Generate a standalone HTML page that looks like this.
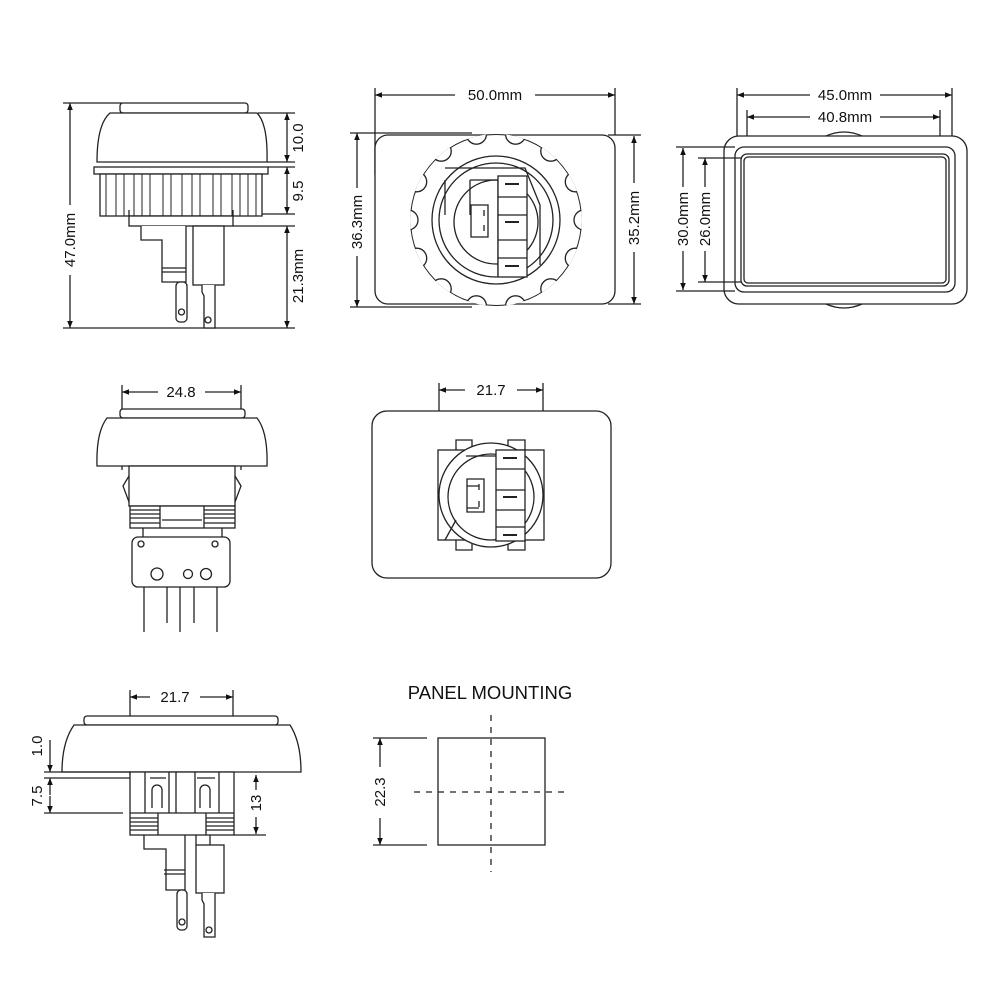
<!DOCTYPE html>
<html><head><meta charset="utf-8"><style>
html,body{margin:0;padding:0;background:#fff}
svg{display:block}
text{font-family:"Liberation Sans",Arial,sans-serif;font-size:15px;fill:#111}
</style></head><body>
<svg width="1000" height="1000" viewBox="0 0 1000 1000" xmlns="http://www.w3.org/2000/svg">
<defs>
<marker id="a" viewBox="0 0 10 10" refX="10" refY="5" markerWidth="9" markerHeight="7" orient="auto-start-reverse" markerUnits="userSpaceOnUse"><path d="M0,1 L10,5 L0,9 Z" fill="#111"/></marker>
<clipPath id="cp"><circle cx="496" cy="220" r="86"/></clipPath>
</defs>
<g fill="none" stroke="#222" stroke-width="1.3">

<!-- ===== View 1 ===== -->
<line x1="70" y1="103" x2="70" y2="205" marker-start="url(#a)"/>
<line x1="70" y1="275" x2="70" y2="328" marker-end="url(#a)"/>
<line x1="63" y1="103" x2="122" y2="103"/>
<line x1="63" y1="328" x2="295" y2="328"/>
<rect x="120" y="103" width="128" height="10" rx="3" fill="#fff"/>
<path d="M97,162 Q97,124 110,113 L257,113 Q268,124 267,162 Z" fill="#fff"/>
<rect x="94" y="167" width="174" height="7" fill="#fff"/>
<rect x="100" y="174" width="162" height="42" fill="#fff"/>
<g stroke-width="1">
<path d="M106,174V216M116,174V216M124,174V216M134,174V216M142,174V216M150,174V216M163,174V216M171,174V216M182,174V216M192,174V216M200,174V216M213,174V216M221,174V216M232,174V216M240,174V216M248,174V216M256,174V216"/>
</g>
<rect x="129" y="216" width="104" height="10" fill="#fff"/>
<path d="M129,210V216M233,210V216"/>
<path d="M141,226V240H162V282H186V226" fill="#fff"/>
<path d="M162,268H186M162,272H186"/>
<rect x="193" y="226" width="31" height="59" fill="#fff"/>
<rect x="176" y="282" width="11" height="40" rx="4" fill="#fff"/>
<circle cx="181.5" cy="312" r="3"/>
<path d="M202,285V292L204,296V328H215V285" fill="#fff"/>
<circle cx="208" cy="320" r="3"/>
<line x1="287" y1="113" x2="287" y2="162" marker-start="url(#a)" marker-end="url(#a)"/>
<line x1="287" y1="167" x2="287" y2="214" marker-start="url(#a)" marker-end="url(#a)"/>
<line x1="287" y1="226" x2="287" y2="328" marker-start="url(#a)" marker-end="url(#a)"/>
<path d="M258,113H295M267,162H295M268,167H295M262,214H295M233,226H295"/>

<!-- ===== View 2 ===== -->
<line x1="375" y1="95" x2="455" y2="95" marker-start="url(#a)"/>
<line x1="535" y1="95" x2="615" y2="95" marker-end="url(#a)"/>
<path d="M375,88V175M615,88V135"/>
<rect x="375" y="135" width="240" height="169" rx="13" fill="#fff"/>
<line x1="357" y1="133" x2="357" y2="188" marker-start="url(#a)"/>
<line x1="357" y1="256" x2="357" y2="307" marker-end="url(#a)"/>
<path d="M350,133H472M350,307H472"/>
<line x1="634" y1="136" x2="634" y2="183" marker-start="url(#a)"/>
<line x1="634" y1="252" x2="634" y2="304" marker-end="url(#a)"/>
<path d="M608,135H641M608,304H641"/>
<g clip-path="url(#cp)">
<circle cx="496" cy="220" r="86" fill="#fff" stroke-width="2"/>
<g fill="#fff">
<circle cx="584" cy="220" r="10"/><circle cx="575.3" cy="258.2" r="10"/><circle cx="550.8" cy="288.8" r="10"/><circle cx="515.6" cy="305.8" r="10"/><circle cx="476.4" cy="305.8" r="10"/><circle cx="441.2" cy="288.8" r="10"/><circle cx="416.7" cy="258.2" r="10"/><circle cx="408" cy="220" r="10"/><circle cx="416.7" cy="181.8" r="10"/><circle cx="441.2" cy="151.2" r="10"/><circle cx="476.4" cy="134.2" r="10"/><circle cx="515.6" cy="134.2" r="10"/><circle cx="550.8" cy="151.2" r="10"/><circle cx="575.3" cy="181.8" r="10"/>
</g>
</g>
<circle cx="496" cy="220" r="64" fill="#fff"/>
<circle cx="496" cy="220" r="57"/>
<path d="M445,168H525L540,205V265M445,180V215"/>
<circle cx="496" cy="222" r="42"/>
<path d="M470,180H498V276M470,180V215"/>
<path d="M471,205H488V237H471Z" fill="#fff"/>
<path d="M484,210V216M484,225V231"/>
<rect x="498" y="176" width="29" height="101" fill="#fff"/>
<path d="M498,197H527M498,215H527M498,240H527M498,258H527"/>
<path d="M505,184H519M505,222H519M505,266H519" stroke-width="2"/>

<!-- ===== View 3 ===== -->
<line x1="737" y1="95" x2="810" y2="95" marker-start="url(#a)"/>
<line x1="880" y1="95" x2="952" y2="95" marker-end="url(#a)"/>
<line x1="747" y1="117" x2="810" y2="117" marker-start="url(#a)"/>
<line x1="880" y1="117" x2="940" y2="117" marker-end="url(#a)"/>
<path d="M737,88V152M952,88V152M747,110V160M940,110V160"/>
<path d="M826,136Q844,128 862,136M826,304Q844,312 862,304"/>
<rect x="724" y="136" width="243" height="168" rx="15" fill="#fff"/>
<rect x="735" y="147" width="220" height="145" rx="9"/>
<rect x="741" y="154" width="208" height="132" rx="6"/>
<rect x="744" y="157" width="202" height="126" rx="4"/>
<line x1="683" y1="148" x2="683" y2="187" marker-start="url(#a)"/>
<line x1="683" y1="251" x2="683" y2="290" marker-end="url(#a)"/>
<line x1="705" y1="158" x2="705" y2="187" marker-start="url(#a)"/>
<line x1="705" y1="251" x2="705" y2="282" marker-end="url(#a)"/>
<path d="M676,147H735M676,291H735M698,158H742M698,282H742"/>

<!-- ===== View 4 ===== -->
<line x1="122" y1="392" x2="158" y2="392" marker-start="url(#a)"/>
<line x1="205" y1="392" x2="241" y2="392" marker-end="url(#a)"/>
<path d="M122,385V470M241,385V470"/>
<rect x="120" y="409" width="125" height="9" rx="3" fill="#fff"/>
<path d="M97,466Q96,432 107,418L257,418Q268,432 267,466Z" fill="#fff"/>
<rect x="129" y="466" width="106" height="40" fill="#fff"/>
<path d="M129,476L123,486L129,502M235,476L241,486L235,502"/>
<rect x="130" y="506" width="105" height="22" fill="#fff"/>
<path d="M130,510H160M130,514H160M130,518H160M130,523H160M204,510H235M204,514H235M204,518H235M204,523H235M160,506V528M204,506V528M162,520H202"/>
<path d="M143,528V537M222,528V537"/>
<rect x="132" y="537" width="98" height="50" rx="6" fill="#fff"/>
<circle cx="141" cy="544" r="3"/><circle cx="215" cy="544" r="3"/>
<circle cx="157" cy="574" r="6"/><circle cx="188" cy="574" r="4.5"/><circle cx="206" cy="574" r="5.5"/>
<path d="M144,587V632M167,587V623M180,587V632M194,587V623M217,587V632"/>

<!-- ===== View 5 ===== -->
<line x1="439" y1="390" x2="465" y2="390" marker-start="url(#a)"/>
<line x1="517" y1="390" x2="543" y2="390" marker-end="url(#a)"/>
<path d="M439,383V450M543,383V450"/>
<rect x="372" y="411" width="239" height="167" rx="15" fill="#fff"/>
<path d="M456,450V440H472V450M508,450V440H525V450M456,540V550H472V540M508,540V550H525V540"/>
<rect x="438" y="450" width="106" height="90" fill="#fff"/>
<circle cx="491" cy="495" r="52" fill="#fff"/>
<circle cx="491" cy="497" r="43"/>
<path d="M466,456H496M456,520L445,540"/>
<path d="M467,479H484V512H467Z" fill="#fff"/>
<path d="M479,484V490M479,501V507M467,486H479M467,508H479"/>
<rect x="496" y="450" width="29" height="91" fill="#fff"/>
<path d="M496,469H525M496,490H525M496,510H525M496,527H525"/>
<path d="M503,458H517M503,497H517M503,535H517" stroke-width="2"/>

<!-- ===== View 6 ===== -->
<line x1="130" y1="697" x2="150" y2="697" marker-start="url(#a)"/>
<line x1="200" y1="697" x2="233" y2="697" marker-end="url(#a)"/>
<path d="M130,690V775M233,690V775"/>
<rect x="84" y="716" width="194" height="9" rx="3" fill="#fff"/>
<path d="M62,772Q62,742 74,725L290,725Q301,742 301,772Z" fill="#fff"/>
<rect x="130" y="772" width="104" height="63" fill="#fff"/>
<path d="M145,772V813M169,772V813M176,772V813M195,772V813M219,772V813M150,778H166M197,778H215"/>
<path d="M152,808V790A5,5 0 0 1 162,790V808M200,808V790A5,5 0 0 1 210,790V808"/>
<path d="M130,813H234M130,818H158M130,822H158M130,826H158M130,830H158M206,818H234M206,822H234M206,826H234M206,830H234M158,813V835M206,813V835"/>
<path d="M144,835V849H166V890H185V835M164,870H185M164,874H185"/>
<rect x="196" y="845" width="28" height="48" fill="#fff"/>
<path d="M196,835V845M210,835V845"/>
<rect x="177" y="890" width="10" height="40" rx="4" fill="#fff"/>
<circle cx="182" cy="922" r="3"/>
<path d="M202,893V900L204,904V937H215V893" fill="#fff"/>
<circle cx="209" cy="930" r="3"/>
<line x1="50" y1="740" x2="50" y2="772" marker-end="url(#a)"/>
<line x1="50" y1="795" x2="50" y2="778" marker-end="url(#a)"/>
<line x1="50" y1="796" x2="50" y2="813" marker-end="url(#a)"/>
<path d="M44,772H130M44,778H130M44,813H123"/>
<line x1="256" y1="790" x2="256" y2="775" marker-end="url(#a)"/>
<line x1="256" y1="817" x2="256" y2="834" marker-end="url(#a)"/>
<path d="M234,835H266"/>

<!-- ===== Panel mounting ===== -->
<rect x="438" y="738" width="107" height="107" fill="#fff"/>
<path d="M491,715V872M414,792H570" stroke-dasharray="6,6"/>
<line x1="380" y1="767" x2="380" y2="738" marker-end="url(#a)"/>
<line x1="380" y1="818" x2="380" y2="845" marker-end="url(#a)"/>
<path d="M373,738H427M373,845H427"/>
</g>

<!-- text -->
<text x="75" y="240" transform="rotate(-90 75 240)" text-anchor="middle">47.0mm</text>
<text x="303" y="138" transform="rotate(-90 303 138)" text-anchor="middle">10.0</text>
<text x="303" y="191" transform="rotate(-90 303 191)" text-anchor="middle">9.5</text>
<text x="303" y="276" transform="rotate(-90 303 276)" text-anchor="middle">21.3mm</text>
<text x="495" y="100" text-anchor="middle">50.0mm</text>
<text x="362" y="222" transform="rotate(-90 362 222)" text-anchor="middle">36.3mm</text>
<text x="639" y="218" transform="rotate(-90 639 218)" text-anchor="middle">35.2mm</text>
<text x="845" y="100" text-anchor="middle">45.0mm</text>
<text x="845" y="122" text-anchor="middle">40.8mm</text>
<text x="688" y="219" transform="rotate(-90 688 219)" text-anchor="middle">30.0mm</text>
<text x="710" y="219" transform="rotate(-90 710 219)" text-anchor="middle">26.0mm</text>
<text x="181" y="397" text-anchor="middle">24.8</text>
<text x="491" y="395" text-anchor="middle">21.7</text>
<text x="175" y="702" text-anchor="middle">21.7</text>
<text x="42" y="746" transform="rotate(-90 42 746)" text-anchor="middle">1.0</text>
<text x="42" y="796" transform="rotate(-90 42 796)" text-anchor="middle">7.5</text>
<text x="261" y="803" transform="rotate(-90 261 803)" text-anchor="middle">13</text>
<text x="385" y="792" transform="rotate(-90 385 792)" text-anchor="middle">22.3</text>
<text x="490" y="699" text-anchor="middle" style="font-size:18.5px">PANEL MOUNTING</text>
</svg>
</body></html>
